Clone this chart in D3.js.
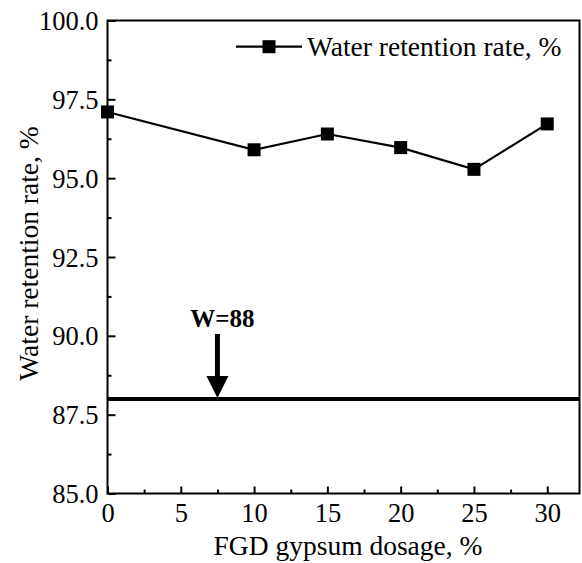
<!DOCTYPE html>
<html><head><meta charset="utf-8">
<script src="https://cdn.jsdelivr.net/npm/d3@7"></script>
<style>body{margin:0;background:#fff}svg{display:block}
svg text{font-family:"Liberation Serif","Times New Roman","Tinos","DejaVu Serif",serif;}</style>
</head><body>
<script>
const dosage = [0, 10, 15, 20, 25, 30];
const retention = [97.1, 95.9, 96.4, 95.97, 95.28, 96.72];
const xTicks = [0, 5, 10, 15, 20, 25, 30];
const xMinor = [2.5, 7.5, 12.5, 17.5, 22.5, 27.5, 32.5];
const yTicks = [85, 87.5, 90, 92.5, 95, 97.5, 100];
const yMinor = [86.25, 88.75, 91.25, 93.75, 96.25, 98.75];
const limitValue = 88;
const arrowX = 7.5;
const seriesName = "Water retention rate, %";
const xTitle = "FGD gypsum dosage, %";
const yTitle = "Water retention rate, %";
const limitLabel = "W=88";

const W = 582, H = 563;
const m = {left: 107.5, right: 579.5, top: 20.5, bottom: 493.5};

const svg = d3.select("body").append("svg").attr("width", W).attr("height", H);
const x = d3.scaleLinear().domain([0, 32.2]).range([m.left, m.right]);
const y = d3.scaleLinear().domain([85, 100]).range([m.bottom, m.top]);

// frame
svg.append("rect").attr("x", m.left).attr("y", m.top)
  .attr("width", m.right - m.left).attr("height", m.bottom - m.top)
  .attr("fill", "none").attr("stroke", "#000").attr("stroke-width", 2);

function styleText(sel, size) {
  sel.attr("font-family", null).attr("font-size", size).attr("fill", "#000");
}

// x axis
const gx = svg.append("g").attr("transform", `translate(0,${m.bottom})`)
  .call(d3.axisBottom(x).tickValues(xTicks).tickFormat(d3.format("d")).tickSizeInner(-7).tickSizeOuter(0).tickPadding(10));
gx.attr("font-family", null);
gx.select(".domain").remove();
gx.selectAll("line").attr("stroke-width", 2);
styleText(gx.selectAll("text"), 26.5);
const gxm = svg.append("g").attr("transform", `translate(0,${m.bottom})`)
  .call(d3.axisBottom(x).tickValues(xMinor.filter(v => v < 32.2)).tickFormat("").tickSizeInner(-4).tickSizeOuter(0));
gxm.select(".domain").remove();
gxm.selectAll("line").attr("stroke-width", 2);

// y axis
const gy = svg.append("g").attr("transform", `translate(${m.left},0)`)
  .call(d3.axisLeft(y).tickValues(yTicks).tickFormat(d3.format(".1f")).tickSizeInner(-8).tickSizeOuter(0).tickPadding(9));
gy.attr("font-family", null);
gy.select(".domain").remove();
gy.selectAll("line").attr("stroke-width", 2);
styleText(gy.selectAll("text"), 26.5);
gy.selectAll("text").attr("dy", "0.34em");
const gym = svg.append("g").attr("transform", `translate(${m.left},0)`)
  .call(d3.axisLeft(y).tickValues(yMinor).tickFormat("").tickSizeInner(-4).tickSizeOuter(0));
gym.select(".domain").remove();
gym.selectAll("line").attr("stroke-width", 2);

// titles
svg.append("text").attr("x", 348).attr("y", 555)
  .attr("text-anchor", "middle").attr("font-size", 27.5).text(xTitle);
svg.append("text").attr("transform", `translate(38,253.5) rotate(-90)`)
  .attr("text-anchor", "middle").attr("font-size", 27.5).text(yTitle);

// limit line
svg.append("line").attr("x1", m.left).attr("x2", m.right)
  .attr("y1", y(limitValue)).attr("y2", y(limitValue))
  .attr("stroke", "#000").attr("stroke-width", 4);

// arrow
const ax = x(arrowX), tipY = y(limitValue) - 1;
svg.append("line").attr("x1", ax).attr("x2", ax).attr("y1", 334).attr("y2", tipY - 18)
  .attr("stroke", "#000").attr("stroke-width", 5);
svg.append("path").attr("d", `M${ax - 11},${tipY - 22}L${ax + 11},${tipY - 22}L${ax},${tipY}Z`).attr("fill", "#000");
svg.append("text").attr("x", ax + 5).attr("y", 327).attr("text-anchor", "middle")
  .attr("font-weight", "bold").attr("font-size", 25).text(limitLabel);

// series
const line = d3.line().x((d, i) => x(dosage[i])).y(d => y(d));
svg.append("path").datum(retention).attr("d", line).attr("fill", "none")
  .attr("stroke", "#000").attr("stroke-width", 2.2);
svg.selectAll("rect.pt").data(retention).join("rect").attr("class", "pt")
  .attr("x", (d, i) => x(dosage[i]) - 6.5).attr("y", d => y(d) - 6.5)
  .attr("width", 13).attr("height", 13).attr("fill", "#000");

// legend
const ly = 46.7;
svg.append("line").attr("x1", 236).attr("x2", 302).attr("y1", ly).attr("y2", ly)
  .attr("stroke", "#000").attr("stroke-width", 2.2);
svg.append("rect").attr("x", 269 - 6.5).attr("y", ly - 6.5).attr("width", 13).attr("height", 13).attr("fill", "#000");
svg.append("text").attr("x", 307).attr("y", ly + 9).attr("font-size", 27.5).text(seriesName);
</script>
</body></html>
